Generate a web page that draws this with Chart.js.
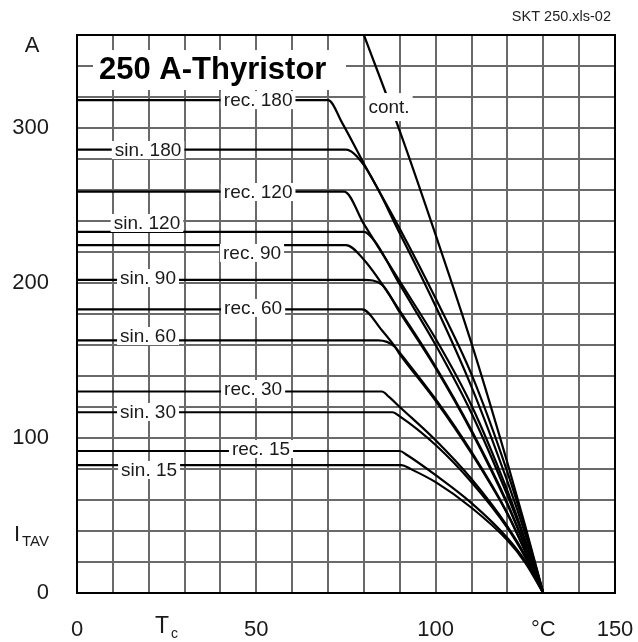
<!DOCTYPE html>
<html>
<head>
<meta charset="utf-8">
<script src="https://cdn.jsdelivr.net/npm/chart.js@4.4.0/dist/chart.umd.min.js"></script>
<style>
  html, body { margin: 0; padding: 0; background: #fff; }
  canvas { display: block; }
</style>
</head>
<body>
<canvas id="chart" width="638" height="642"></canvas>
<script>
// case temperature Tc (°C) and average on-state current I_TAV (A) for each curve
const contTc = [80, 90, 100, 110, 120, 125, 130];
const contI = [360, 298, 231, 161, 84, 43, 0];

const rec180Tc = [0, 70, 74, 80, 90, 100, 110, 120, 125, 130];
const rec180I = [318, 318, 303, 277, 235, 190, 141, 78, 41, 0];
const sin180Tc = [0, 75, 80, 90, 100, 110, 120, 125, 130];
const sin180I = [286, 286, 276, 232, 185, 133, 72, 38, 0];

const rec120Tc = [0, 74.5, 80, 90, 100, 110, 120, 125, 130];
const rec120I = [259, 259, 238, 201, 164, 121, 66, 34, 0];
const sin120Tc = [0, 80, 83, 90, 100, 110, 120, 125, 130];
const sin120I = [233, 233, 227, 199, 160, 116, 63, 33, 0];

const rec90Tc = [0, 75, 80, 90, 100, 110, 120, 125, 130];
const rec90I = [224.5, 224.5, 215, 182, 146, 105, 58, 30, 0];
const sin90Tc = [0, 80, 85, 90, 100, 110, 120, 125, 130];
const sin90I = [202, 202, 199, 181, 145, 104, 57, 29.5, 0];

const rec60Tc = [0, 79.5, 85, 90, 100, 110, 120, 125, 130];
const rec60I = [183, 183, 169.5, 155, 125, 91, 51.5, 27, 0];
const sin60Tc = [0, 84, 88.5, 90, 100, 110, 120, 125, 130];
const sin60I = [163, 163, 159, 154, 124, 90, 51, 26.5, 0];

const rec30Tc = [0, 85, 87, 90, 100, 110, 120, 125, 130];
const rec30I = [130, 130, 126.5, 120, 98.5, 73.5, 43, 24, 0];
const sin30Tc = [0, 88, 90, 100, 110, 120, 125, 130];
const sin30I = [116.6, 116.6, 114, 95.5, 71.5, 42, 23, 0];

const rec15Tc = [0, 90, 92, 100, 110, 120, 125, 130];
const rec15I = [91.6, 91.6, 89, 76, 58, 35.5, 20.5, 0];
const sin15Tc = [0, 90.5, 93, 100, 110, 120, 125, 130];
const sin15I = [82.5, 82.5, 80, 71.5, 55, 34, 19.5, 0];

// curve captions, placed in axis units
const curveLabels = [
  { text: 'rec. 180', tc: 50.5, amp: 318 },
  { text: 'sin. 180', tc: 19.8, amp: 285.8 },
  { text: 'rec. 120', tc: 50.5, amp: 258.7 },
  { text: 'sin. 120', tc: 19.5, amp: 238.7 },
  { text: 'rec. 90', tc: 48.8, amp: 219.4 },
  { text: 'sin. 90', tc: 19.8, amp: 203.2 },
  { text: 'rec. 60', tc: 49.1, amp: 183.9 },
  { text: 'sin. 60', tc: 19.8, amp: 165.8 },
  { text: 'rec. 30', tc: 49.1, amp: 131.6 },
  { text: 'sin. 30', tc: 19.8, amp: 116.8 },
  { text: 'rec. 15', tc: 51.3, amp: 92.9 },
  { text: 'sin. 15', tc: 20.1, amp: 79.4 },
  { text: 'cont.', tc: 87, amp: 313.5, padY: 14 }
];

const pts = (tc, amp) => tc.map((t, i) => ({ x: t, y: amp[i] }));

const curves = [
  [contTc, contI], [rec180Tc, rec180I], [sin180Tc, sin180I],
  [rec120Tc, rec120I], [sin120Tc, sin120I], [rec90Tc, rec90I], [sin90Tc, sin90I],
  [rec60Tc, rec60I], [sin60Tc, sin60I], [rec30Tc, rec30I], [sin30Tc, sin30I],
  [rec15Tc, rec15I], [sin15Tc, sin15I]
];

const FONT = '"Liberation Sans", Arial, sans-serif';
const INK = '#1a1a1a';

// keep the plot box fixed: no extra room for overhanging tick labels
const noPad = s => { s.paddingLeft = 0; s.paddingRight = 0; s.paddingTop = 0; s.paddingBottom = 0; };

const annotate = {
  id: 'annotate',
  afterDatasetsDraw(chart) {
    const { ctx, scales: { x, y } } = chart;
    ctx.save();
    ctx.font = '19px ' + FONT;
    ctx.textAlign = 'center';
    ctx.textBaseline = 'middle';
    curveLabels.forEach(l => {
      const px = x.getPixelForValue(l.tc);
      const py = y.getPixelForValue(l.amp);
      const w = ctx.measureText(l.text).width;
      const padY = l.padY || 9;
      ctx.fillStyle = '#fff';
      ctx.fillRect(px - w / 2 - 3, py - padY, w + 6, padY * 2);
      ctx.fillStyle = INK;
      ctx.fillText(l.text, px, py + 1);
    });

    // heading inside the plot
    ctx.font = 'bold 31px ' + FONT;
    ctx.textAlign = 'left';
    const title = '250 A-Thyristor';
    ctx.fillStyle = '#fff';
    ctx.fillRect(93, 50, 253, 40);
    ctx.fillStyle = '#000';
    ctx.fillText(title, 99, 70);
    ctx.restore();
  },
  afterDraw(chart) {
    const { ctx, chartArea: a, scales: { x } } = chart;
    ctx.save();
    ctx.strokeStyle = '#000';
    ctx.lineWidth = 2;
    ctx.strokeRect(a.left, a.top, a.right - a.left, a.bottom - a.top);

    ctx.fillStyle = INK;
    ctx.textBaseline = 'middle';
    ctx.font = '22px ' + FONT;
    ctx.textAlign = 'center';
    ctx.fillText('A', 32, 46);
    ctx.fillText('°C', x.getPixelForValue(130), 630);
    ctx.textAlign = 'left';
    ctx.fillText('I', 14, 535);
    ctx.font = '23px ' + FONT;
    ctx.fillText('T', 155, 627);
    ctx.font = '15px ' + FONT;
    ctx.fillText('TAV', 22, 542);
    ctx.font = '14px ' + FONT;
    ctx.fillText('c', 171, 634);

    ctx.font = '14.5px ' + FONT;
    ctx.textAlign = 'right';
    ctx.fillStyle = '#222';
    ctx.fillText('SKT 250.xls-02', 611, 17);
    ctx.restore();
  }
};

new Chart(document.getElementById('chart').getContext('2d'), {
  type: 'line',
  data: {
    datasets: curves.map(([tc, amp]) => ({
      data: pts(tc, amp),
      borderColor: '#000',
      borderWidth: 2.2,
      pointRadius: 0,
      fill: false,
      cubicInterpolationMode: 'monotone'
    }))
  },
  options: {
    responsive: false,
    animation: false,
    layout: { padding: { left: 0, right: 23, top: 35, bottom: 0 } },
    plugins: { legend: { display: false }, tooltip: { enabled: false } },
    scales: {
      x: {
        type: 'linear',
        min: 0,
        max: 150,
        afterFit: s => { s.height = 49; noPad(s); },
        border: { display: false },
        grid: { color: '#6a6a6a', lineWidth: 2, drawTicks: false },
        ticks: {
          stepSize: 10,
          autoSkip: false,
          maxRotation: 0,
          padding: 24,
          color: INK,
          font: { family: FONT, size: 22 },
          callback: v => (v % 50 === 0 ? String(v) : '')
        }
      },
      y: {
        type: 'linear',
        min: 0,
        max: 360,
        afterFit: s => { s.width = 77; noPad(s); },
        border: { display: false },
        grid: { color: '#6a6a6a', lineWidth: 2, drawTicks: false },
        ticks: {
          stepSize: 20,
          autoSkip: false,
          padding: 28,
          color: INK,
          font: { family: FONT, size: 22 },
          callback: v => (v % 100 === 0 ? String(v) : '')
        }
      }
    }
  },
  plugins: [annotate]
});
</script>
</body>
</html>
